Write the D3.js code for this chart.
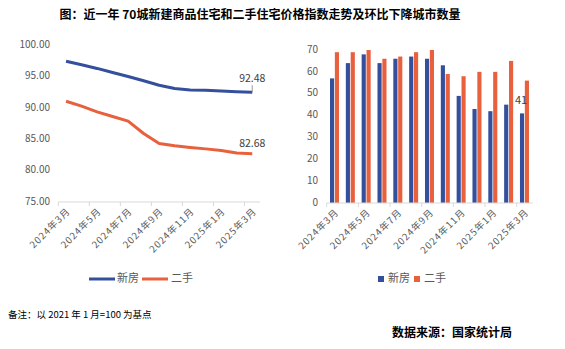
<!DOCTYPE html>
<html>
<head>
<meta charset="utf-8">
<script src="https://cdn.jsdelivr.net/npm/d3@7"></script>
<style>
  body { margin: 0; background: #fff; }
  text { font-family: "Noto Sans CJK SC", "Noto Sans", sans-serif; }
</style>
</head>
<body>
<script>
// months shared by both panels
var months = ["2024年3月", "2024年4月", "2024年5月", "2024年6月", "2024年7月", "2024年8月", "2024年9月",
    "2024年10月", "2024年11月", "2024年12月", "2025年1月", "2025年2月", "2025年3月"];
// price index, 2021-01 = 100
var newHomeIndex = [97.40, 96.85, 96.27, 95.62, 94.99, 94.30, 93.60, 93.07, 92.85, 92.78, 92.68, 92.56, 92.48];
var resaleIndex = [91.05, 90.26, 89.36, 88.62, 87.87, 85.91, 84.32, 83.95, 83.69, 83.46, 83.19, 82.80, 82.68];
// number of cities with month-on-month decline
var newHomeDown = [57, 64, 68, 64, 66, 67, 66, 63, 49, 43, 42, 45, 41];
var resaleDown = [69, 69, 70, 66, 67, 69, 70, 59, 58, 60, 60, 65, 56];
var seriesNames = ["新房", "二手"];
var indexTicks = [75, 80, 85, 90, 95, 100];
var countTicks = [0, 10, 20, 30, 40, 50, 60, 70];

var blue = "#344f9c";
var red = "#e8603c";
var grey = "#595959";
var axisC = "#d9d9d9";

var svg = d3.select("body")
    .append("svg")
    .attr("width", 565)
    .attr("height", 349);

svg.append("text")
    .attr("x", 260)
    .attr("y", 19)
    .attr("text-anchor", "middle")
    .attr("font-size", 12)
    .attr("font-weight", "bold")
    .attr("fill", "#000")
    .text("图：近一年 70城新建商品住宅和二手住宅价格指数走势及环比下降城市数量");

function drawXAxis(g, x, y0) {
    var r = x.range();
    g.append("line")
        .attr("x1", r[0]).attr("y1", y0)
        .attr("x2", r[1]).attr("y2", y0)
        .attr("stroke", axisC).attr("stroke-width", 1);
    months.forEach(function (m, i) {
        if (i % 2 != 0) return;
        g.append("line")
            .attr("x1", x(m)).attr("y1", y0)
            .attr("x2", x(m)).attr("y2", y0 + 4)
            .attr("stroke", axisC).attr("stroke-width", 1);
        var cx = x(m) + x.bandwidth() / 2;
        g.append("text")
            .attr("transform", "translate(" + (cx + 3) + "," + (y0 + 8) + ") rotate(-45)")
            .attr("text-anchor", "end")
            .attr("dominant-baseline", "middle")
            .attr("font-size", 9.5)
            .attr("letter-spacing", 1)
            .attr("fill", grey)
            .text(m);
    });
}

// ---- left panel: index lines
var gl = svg.append("g");
var xl = d3.scaleBand().domain(months).range([58.3, 260]);
var yl = d3.scaleLinear().domain([75, 100]).range([202, 45]);

indexTicks.forEach(function (t) {
    gl.append("text")
        .attr("x", 50)
        .attr("y", yl(t))
        .attr("text-anchor", "end")
        .attr("dominant-baseline", "middle")
        .attr("font-size", 10)
        .attr("fill", grey)
        .text(d3.format(".2f")(t));
});
drawXAxis(gl, xl, 202);

var line = d3.line()
    .x(function (d, i) { return xl(months[i]) + xl.bandwidth() / 2; })
    .y(function (d) { return yl(d); });

[[newHomeIndex, blue], [resaleIndex, red]].forEach(function (s) {
    gl.append("path")
        .datum(s[0])
        .attr("d", line)
        .attr("fill", "none")
        .attr("stroke", s[1])
        .attr("stroke-width", 3)
        .attr("stroke-linejoin", "round");
});

var lastX = xl(months[12]) + xl.bandwidth() / 2;
gl.append("line")
    .attr("x1", lastX).attr("y1", yl(newHomeIndex[12]) - 7)
    .attr("x2", lastX).attr("y2", yl(newHomeIndex[12]))
    .attr("stroke", "#7f7f7f").attr("stroke-width", 0.8);
gl.append("text")
    .attr("x", lastX)
    .attr("y", yl(newHomeIndex[12]) - 10)
    .attr("text-anchor", "middle")
    .attr("font-size", 10.5)
    .attr("fill", "#404040")
    .text(newHomeIndex[12].toFixed(2));
gl.append("text")
    .attr("x", lastX)
    .attr("y", yl(resaleIndex[12]) - 7)
    .attr("text-anchor", "middle")
    .attr("font-size", 10.5)
    .attr("fill", "#404040")
    .text(resaleIndex[12].toFixed(2));

// line legend
[[89, blue, 117], [142, red, 171]].forEach(function (l, i) {
    gl.append("line")
        .attr("x1", l[0]).attr("y1", 279)
        .attr("x2", l[0] + 26).attr("y2", 279)
        .attr("stroke", l[1]).attr("stroke-width", 3);
    gl.append("text")
        .attr("x", l[2])
        .attr("y", 279)
        .attr("dominant-baseline", "middle")
        .attr("font-size", 11)
        .attr("fill", grey)
        .text(seriesNames[i]);
});

// ---- right panel: bars
var gr = svg.append("g");
var xr = d3.scaleBand().domain(months).range([326.7, 532.5]);
var xs = d3.scaleBand().domain(seriesNames).range([3.3, 12.3]).paddingInner(0.15);
var yr = d3.scaleLinear().domain([0, 70]).range([203, 50]);

countTicks.forEach(function (t) {
    gr.append("text")
        .attr("x", 318)
        .attr("y", yr(t))
        .attr("text-anchor", "end")
        .attr("dominant-baseline", "middle")
        .attr("font-size", 10)
        .attr("fill", grey)
        .text(t);
});

[[newHomeDown, blue], [resaleDown, red]].forEach(function (s, k) {
    gr.selectAll(null)
        .data(s[0])
        .enter()
        .append("rect")
        .attr("x", function (d, i) { return xr(months[i]) + xs(seriesNames[k]); })
        .attr("y", function (d) { return yr(d); })
        .attr("width", xs.bandwidth())
        .attr("height", function (d) { return yr(0) - yr(d); })
        .attr("fill", s[1]);
});
drawXAxis(gr, xr, 203);

gr.append("text")
    .attr("x", xr(months[12]) + xs("新房") + xs.bandwidth() / 2 - 1)
    .attr("y", yr(newHomeDown[12]) - 9)
    .attr("text-anchor", "middle")
    .attr("font-family", "Liberation Serif")
    .attr("font-size", 11)
    .attr("fill", "#404040")
    .text(newHomeDown[12]);

// bar legend
[[378, blue, 388], [414, red, 424]].forEach(function (l, i) {
    gr.append("rect")
        .attr("x", l[0]).attr("y", 276)
        .attr("width", 6).attr("height", 6)
        .attr("fill", l[1]);
    gr.append("text")
        .attr("x", l[2])
        .attr("y", 279)
        .attr("dominant-baseline", "middle")
        .attr("font-size", 11)
        .attr("fill", grey)
        .text(seriesNames[i]);
});

// notes
svg.append("text")
    .attr("x", 8)
    .attr("y", 318)
    .attr("font-size", 9.5)
    .attr("fill", "#000")
    .text("备注：以 2021 年 1 月=100 为基点");
svg.append("text")
    .attr("x", 512)
    .attr("y", 337)
    .attr("text-anchor", "end")
    .attr("font-size", 12)
    .attr("font-weight", "bold")
    .attr("fill", "#000")
    .text("数据来源：国家统计局");
</script>
</body>
</html>
